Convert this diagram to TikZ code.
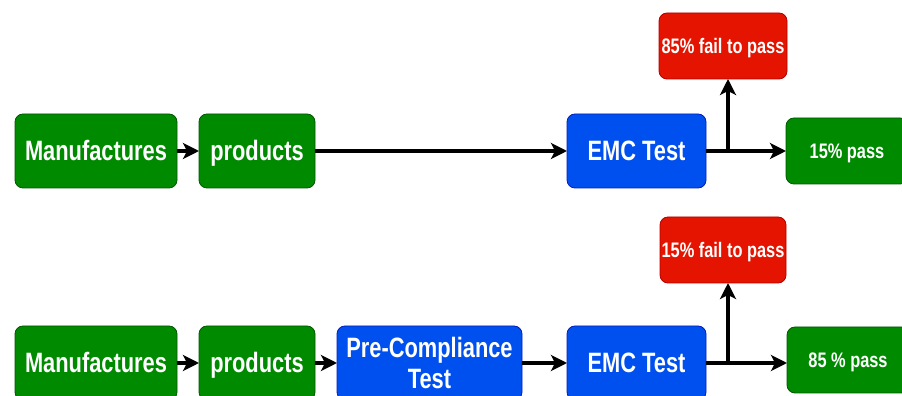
\documentclass[tikz,border=0pt]{standalone}
\usepackage{fontspec}
\newfontfamily\boxfont{Liberation Sans}[FakeStretch=0.78]
\usetikzlibrary{positioning,calc,arrows.meta}

\definecolor{okgreen}{HTML}{008A00}
\definecolor{okgreenline}{HTML}{005700}
\definecolor{testblue}{HTML}{0050EF}
\definecolor{testblueline}{HTML}{001DBC}
\definecolor{failred}{HTML}{E51400}
\definecolor{failredline}{HTML}{B20000}

\begin{document}
\begin{tikzpicture}[x=1pt,y=1pt,
        box/.style={draw, line width=0.8pt, rounded corners=8pt, text=white, align=center,
            inner sep=0pt, outer sep=0pt, minimum height=74pt,
            font=\boxfont\bfseries\fontsize{28}{31}\selectfont},
        oneline/.style={text height=20pt, text depth=0pt},
        small/.style={minimum height=66pt, text height=15pt, text depth=0pt,
            font=\boxfont\bfseries\fontsize{21}{24}\selectfont},
        greenbox/.style={box, fill=okgreen, draw=okgreenline},
        bluebox/.style={box, fill=testblue, draw=testblueline},
        redbox/.style={box, small, fill=failred, draw=failredline},
        flow/.style={-{Stealth[length=16pt,width=16pt,inset=4pt]}, line width=3.5pt, black}
    ]
        \clip (0,0) rectangle (902,396);

        % without pre-compliance test
        \node[greenbox, oneline, minimum width=162pt] (manu1) at (96,245) {Manufactures};
        \node[greenbox, oneline, minimum width=116pt, right=22pt of manu1] (prod1) {products};
        \node[bluebox, oneline, minimum width=139pt] (emc1) at (636.5,245) {EMC Test};
        \node[redbox, minimum width=128pt] (fail1) at (723,350) {85\% fail to pass};
        \node[greenbox, small, minimum width=122pt, right=80pt of emc1] (pass1) {15\% pass};

        \draw[flow] (manu1) -- (prod1);
        \draw[flow] (prod1) -- (emc1);
        \draw[flow] (emc1) -- (pass1);
        \coordinate (split1) at ($(emc1.east)+(22,0)$);
        \draw[flow] (split1) -- (split1 |- fail1.south);

        % with pre-compliance test
        \node[greenbox, oneline, minimum width=162pt] (manu2) at (96,33) {Manufactures};
        \node[greenbox, oneline, minimum width=116pt, right=22pt of manu2] (prod2) {products};
        \node[bluebox, minimum width=185pt, right=22pt of prod2] (pre2) {Pre-Compliance\\Test};
        \node[bluebox, oneline, minimum width=139pt, right=45pt of pre2] (emc2) {EMC Test};
        \node[redbox, minimum width=126pt] (fail2) at (723,146) {15\% fail to pass};
        \node[greenbox, small, minimum width=122pt, right=81pt of emc2, yshift=3pt] (pass2) {85 \% pass};

        \draw[flow] (manu2) -- (prod2);
        \draw[flow] (prod2) -- (pre2);
        \draw[flow] (pre2) -- (emc2);
        \draw[flow] (emc2) -- (emc2 -| pass2.west);
        \coordinate (split2) at ($(emc2.east)+(22,0)$);
        \draw[flow] (split2) -- (split2 |- fail2.south);
\end{tikzpicture}
\end{document}
